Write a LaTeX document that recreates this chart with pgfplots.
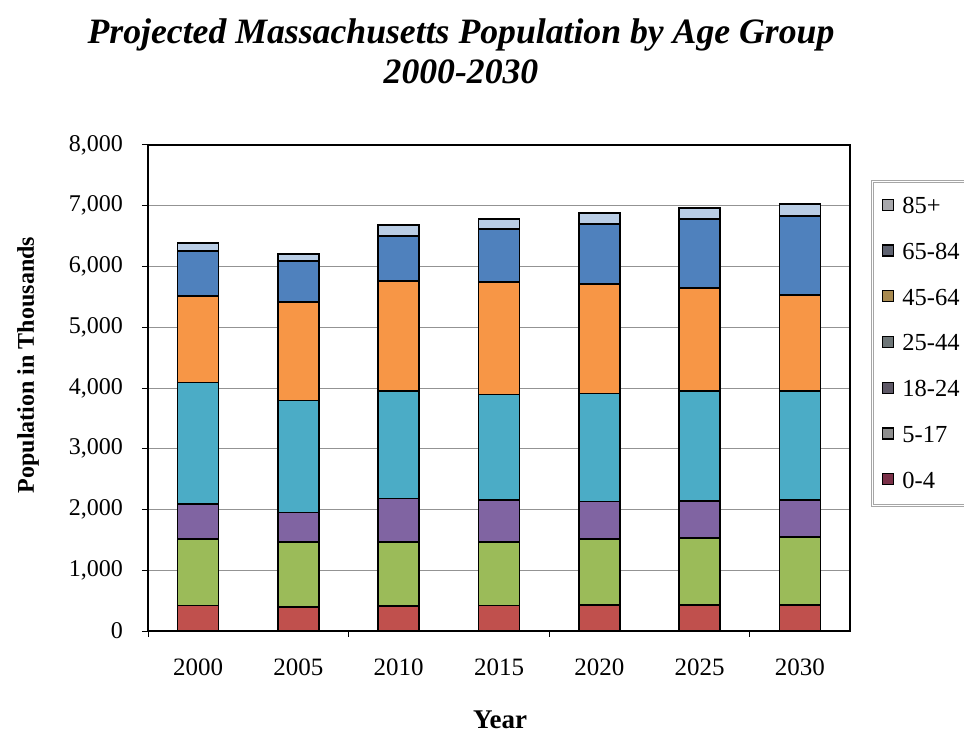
\documentclass[border=0pt]{standalone}
\usepackage{fontspec}
\setmainfont{Liberation Serif}
\usepackage{pgfplots}
\pgfplotsset{compat=1.18}
\definecolor{cA}{HTML}{C0504D}
\definecolor{cB}{HTML}{9BBB59}
\definecolor{cC}{HTML}{8064A2}
\definecolor{cD}{HTML}{4BACC6}
\definecolor{cE}{HTML}{F79646}
\definecolor{cF}{HTML}{4F81BD}
\definecolor{cG}{HTML}{B9CDE5}
\definecolor{lA}{HTML}{7A3048}
\definecolor{lB}{HTML}{8E8E8E}
\definecolor{lC}{HTML}{5E5866}
\definecolor{lD}{HTML}{6E7678}
\definecolor{lE}{HTML}{A88A50}
\definecolor{lF}{HTML}{5E6270}
\definecolor{lG}{HTML}{A8A8AC}
\newcommand{\legsq}[1]{\draw[fill=#1,draw=black,line width=1.2pt] (0pt,-4pt) rectangle (11pt,7pt);}
\begin{document}
\begin{tikzpicture}[x=1pt,y=1pt]
\begin{axis}[
  at={(148pt,109pt)}, anchor=south west,
  scale only axis, width=702pt, height=486pt,
  ybar stacked, bar width=41pt,
  xmin=-0.5, xmax=6.5, ymin=0, ymax=8000,
  xtick={0,...,6}, xticklabels={2000,2005,2010,2015,2020,2025,2030},
  ytick={0,1000,...,8000},
  ytick pos=left,
  scaled y ticks=false,
  /pgf/number format/1000 sep={,},
  /pgf/number format/assume math mode=true,
  ymajorgrids, grid style={gray!85, line width=1pt},
  axis line style={black, line width=1.8pt},
  tick align=outside, major tick length=6pt,
  xtick style={draw=none},
  ytick style={black, line width=1pt},
  yticklabel style={font=\fontsize{24}{28}\selectfont, anchor=east, inner sep=0pt, xshift=-19pt},
  xticklabel style={font=\fontsize{25}{29}\selectfont, anchor=north, inner sep=0pt, yshift=-22pt},
  clip=false,
  reverse legend,
  legend cell align=left,
  legend style={at={(1.031,0.926)}, anchor=north west, draw=gray!70, line width=0.8pt, double=white, double distance=1.2pt,
    font=\fontsize{24.5}{28}\selectfont, inner xsep=10pt, inner ysep=16pt, row sep=28pt, column sep=8pt,
    nodes={inner sep=0pt}},
]
\addplot[fill=cA, draw=black, line width=1.7pt, legend image code/.code={\legsq{lA}}] coordinates {(0,420) (1,395) (2,410) (3,420) (4,430) (5,425) (6,425)};
\addplot[fill=cB, draw=black, line width=1.7pt, legend image code/.code={\legsq{lB}}] coordinates {(0,1100) (1,1075) (2,1060) (3,1050) (4,1090) (5,1110) (6,1125)};
\addplot[fill=cC, draw=black, line width=1.7pt, legend image code/.code={\legsq{lC}}] coordinates {(0,575) (1,480) (2,710) (3,690) (4,610) (5,610) (6,610)};
\addplot[fill=cD, draw=black, line width=1.7pt, legend image code/.code={\legsq{lD}}] coordinates {(0,1995) (1,1845) (2,1765) (3,1735) (4,1780) (5,1800) (6,1785)};
\addplot[fill=cE, draw=black, line width=1.7pt, legend image code/.code={\legsq{lE}}] coordinates {(0,1420) (1,1620) (2,1815) (3,1850) (4,1800) (5,1700) (6,1585)};
\addplot[fill=cF, draw=black, line width=1.7pt, legend image code/.code={\legsq{lF}}] coordinates {(0,745) (1,675) (2,740) (3,870) (4,990) (5,1135) (6,1300)};
\addplot[fill=cG, draw=black, line width=1.7pt, legend image code/.code={\legsq{lG}}] coordinates {(0,130) (1,115) (2,185) (3,165) (4,180) (5,185) (6,200)};
\legend{0-4,5-17,18-24,25-44,45-64,65-84,85+}
\draw[black, line width=1pt] (axis cs:-0.5,0) -- ++(0pt,-6pt);
\draw[black, line width=1pt] (axis cs:1.5,0) -- ++(0pt,-6pt);
\draw[black, line width=1pt] (axis cs:3.5,0) -- ++(0pt,-6pt);
\draw[black, line width=1pt] (axis cs:5.5,0) -- ++(0pt,-6pt);
\end{axis}
\node[anchor=base, font=\fontsize{35.7}{40}\selectfont\bfseries\itshape] at (461,696) {Projected Massachusetts Population by Age Group};
\node[anchor=base, font=\fontsize{35.7}{40}\selectfont\bfseries\itshape] at (461,656) {2000-2030};
\node[rotate=90, font=\fontsize{24}{28}\selectfont\bfseries] at (28,375) {Population in Thousands};
\node[anchor=base, font=\fontsize{27}{32}\selectfont\bfseries] at (500,12) {Year};
\pgfresetboundingbox
\path[use as bounding box] (0,0) rectangle (964,740);
\end{tikzpicture}
\end{document}
